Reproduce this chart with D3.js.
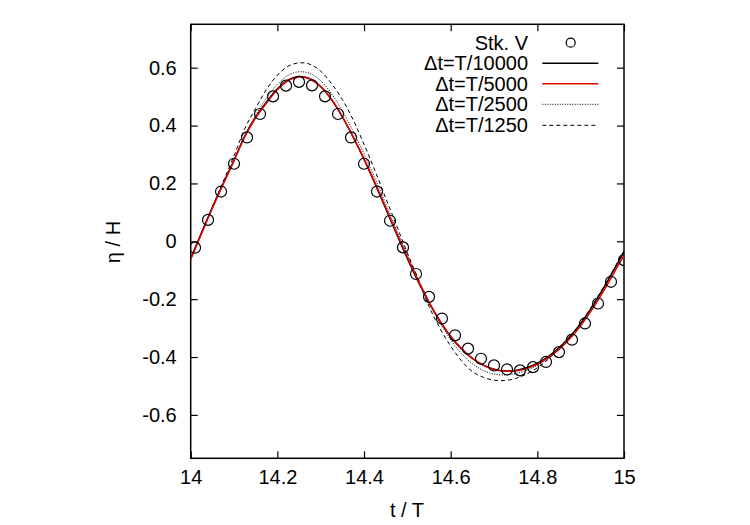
<!DOCTYPE html>
<html><head><meta charset="utf-8">
<script src="https://cdn.jsdelivr.net/npm/d3@7"></script>
<style>body{margin:0;background:#fff}svg{display:block}text{font-family:"Liberation Sans",Arial,sans-serif;fill:#000}</style>
</head><body><svg id="c" width="750" height="525"></svg>
<script>
const tGrid = [14.000,14.025,14.050,14.075,14.100,14.125,14.150,14.175,14.200,14.225,14.250,14.275,14.300,14.325,14.350,14.375,14.400,14.425,14.450,14.475,14.500,14.525,14.550,14.575,14.600,14.625,14.650,14.675,14.700,14.725,14.750,14.775,14.800,14.825,14.850,14.875,14.900,14.925,14.950,14.975,15.000];
const dt10000 = [-0.058,0.030,0.118,0.200,0.280,0.365,0.430,0.482,0.527,0.558,0.570,0.562,0.535,0.490,0.430,0.360,0.283,0.200,0.113,0.025,-0.060,-0.140,-0.213,-0.276,-0.330,-0.372,-0.405,-0.428,-0.442,-0.448,-0.446,-0.437,-0.421,-0.398,-0.368,-0.330,-0.284,-0.230,-0.169,-0.103,-0.035];
const dt5000 = [-0.062,0.026,0.114,0.197,0.278,0.362,0.427,0.478,0.524,0.555,0.568,0.561,0.534,0.490,0.431,0.361,0.285,0.203,0.117,0.030,-0.055,-0.136,-0.210,-0.274,-0.328,-0.371,-0.404,-0.428,-0.443,-0.449,-0.448,-0.440,-0.425,-0.403,-0.374,-0.337,-0.292,-0.239,-0.179,-0.114,-0.048];
const dt2500 = [-0.060,0.029,0.117,0.201,0.282,0.366,0.436,0.495,0.542,0.574,0.586,0.580,0.555,0.510,0.450,0.380,0.302,0.218,0.130,0.040,-0.047,-0.130,-0.207,-0.280,-0.340,-0.388,-0.423,-0.446,-0.459,-0.462,-0.457,-0.446,-0.428,-0.403,-0.372,-0.332,-0.285,-0.230,-0.169,-0.104,-0.038];
const dt1250 = [-0.062,0.028,0.118,0.207,0.295,0.390,0.460,0.525,0.574,0.605,0.617,0.612,0.588,0.545,0.490,0.420,0.335,0.245,0.150,0.055,-0.040,-0.130,-0.225,-0.300,-0.362,-0.413,-0.450,-0.470,-0.480,-0.481,-0.474,-0.459,-0.437,-0.408,-0.372,-0.330,-0.281,-0.226,-0.164,-0.099,-0.033];
const stkT = [14.01,14.04,14.07,14.10,14.13,14.16,14.19,14.22,14.25,14.28,14.31,14.34,14.37,14.40,14.43,14.46,14.49,14.52,14.55,14.58,14.61,14.64,14.67,14.70,14.73,14.76,14.79,14.82,14.85,14.88,14.91,14.94,14.97,15.00];
const stkV = [-0.022,0.074,0.172,0.268,0.359,0.440,0.501,0.538,0.551,0.539,0.501,0.440,0.359,0.268,0.172,0.071,-0.021,-0.113,-0.192,-0.267,-0.325,-0.371,-0.406,-0.429,-0.443,-0.446,-0.435,-0.417,-0.383,-0.340,-0.284,-0.215,-0.140,-0.065];
const xTicks = [14,14.2,14.4,14.6,14.8,15];
const yTicks = [-0.6,-0.4,-0.2,0,0.2,0.4,0.6];
const yTickLabels = ["-0.6","-0.4","-0.2","0","0.2","0.4","0.6"];
const seriesNames = ["\u0394t=T/10000","\u0394t=T/5000","\u0394t=T/2500","\u0394t=T/1250"];

const L=190.7,R=624,T=24.3,B=458.3;
const svg=d3.select("#c");
const x=d3.scaleLinear().domain([14,15]).range([L,R]);
const y=d3.scaleLinear().domain([-0.75,0.75]).range([B,T]);
const fs=20;

svg.append("clipPath").attr("id","cp").append("rect").attr("x",L).attr("y",T).attr("width",R-L).attr("height",B-T);

// axes
const ax=svg.append("g");
ax.append("g").attr("transform",`translate(0,${B})`).call(d3.axisBottom(x).tickValues(xTicks).tickSizeInner(-7).tickSizeOuter(0).tickPadding(12).tickFormat(d3.format("")));
ax.append("g").attr("transform",`translate(0,${T})`).call(d3.axisTop(x).tickValues(xTicks).tickSizeInner(-7).tickSizeOuter(0).tickFormat(""));
ax.append("g").attr("transform",`translate(${L},0)`).call(d3.axisLeft(y).tickValues(yTicks).tickSizeInner(-7).tickSizeOuter(0).tickPadding(14).tickFormat((d,i)=>yTickLabels[i]));
ax.append("g").attr("transform",`translate(${R},0)`).call(d3.axisRight(y).tickValues(yTicks).tickSizeInner(-7).tickSizeOuter(0).tickFormat(""));
ax.selectAll(".domain").remove();
ax.selectAll(".tick line").attr("stroke","#000").attr("stroke-width",1.2);
ax.selectAll(".tick text").attr("font-size",fs).attr("font-family","Liberation Sans, Arial, sans-serif").attr("fill","#000");
svg.append("rect").attr("x",L).attr("y",T).attr("width",R-L).attr("height",B-T).attr("fill","none").attr("stroke","#000").attr("stroke-width",1.5);

const g=svg.append("g").attr("clip-path","url(#cp)");
const line=d3.line().x((d,i)=>x(tGrid[i])).y(d=>y(d)).curve(d3.curveCatmullRom);
const styles=[
 {data:dt1250,stroke:"#000",w:1,dash:"4,3"},
 {data:dt2500,stroke:"#000",w:1,dash:"1,1.5"},
 {data:dt10000,stroke:"#000",w:1.4,dash:null},
 {data:dt5000,stroke:"#e00000",w:1.5,dash:null}
];
styles.forEach(s=>{g.append("path").attr("d",line(s.data)).attr("fill","none").attr("stroke",s.stroke).attr("stroke-width",s.w).attr("stroke-dasharray",s.dash);});
g.selectAll("circle.s").data(stkV).enter().append("circle").attr("cx",(d,i)=>x(stkT[i])).attr("cy",d=>y(d)).attr("r",5.5).attr("fill","none").attr("stroke","#000").attr("stroke-width",1.2);

// legend
const lg=svg.append("g");
const rowY=[42.7,63.2,83.7,104.3,125.3];
const labels=["Stk. V"].concat(seriesNames);
labels.forEach((t,i)=>{lg.append("text").attr("x",528).attr("y",rowY[i]+7).attr("text-anchor","end").attr("font-size",fs).text(t);});
lg.append("circle").attr("cx",570.7).attr("cy",rowY[0]).attr("r",4.5).attr("fill","none").attr("stroke","#000").attr("stroke-width",1.2);
const lst=[styles[2],styles[3],styles[1],styles[0]];
lst.forEach((s,i)=>{lg.append("line").attr("x1",542.3).attr("x2",598.3).attr("y1",rowY[i+1]).attr("y2",rowY[i+1]).attr("stroke",s.stroke).attr("stroke-width",s.w).attr("stroke-dasharray",s.dash);});

svg.append("text").attr("transform","translate(120,242) rotate(-90)").attr("text-anchor","middle").attr("font-size",fs).text("\u03b7 / H");
svg.append("text").attr("x",407).attr("y",517).attr("text-anchor","middle").attr("font-size",fs).text("t / T");
</script></body></html>
